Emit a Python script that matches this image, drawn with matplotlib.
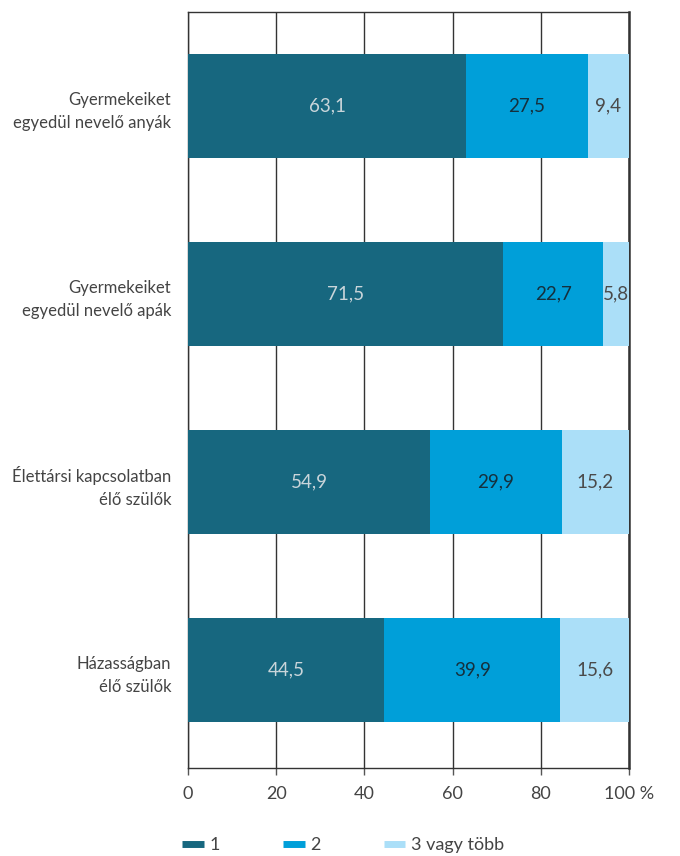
import matplotlib.pyplot as plt
import numpy as np

# categories, top to bottom
categories = ["Gyermekeiket\negyedül nevelő anyák",
              "Gyermekeiket\negyedül nevelő apák",
              "Élettársi kapcsolatban\nélő szülők",
              "Házasságban\nélő szülők"]

series_names = ["1", "2", "3 vagy több"]
vals_1 = [63.1, 71.5, 54.9, 44.5]
vals_2 = [27.5, 22.7, 29.9, 39.9]
vals_3 = [9.4, 5.8, 15.2, 15.6]

x_ticks = [0, 20, 40, 60, 80, 100]
x_tick_labels = ["0", "20", "40", "60", "80", "100 %"]

colors = ["#17677f", "#009fd9", "#abdff8"]
text_colors = ["#c9d5da", "#15303d", "#4a4a4a"]

plt.rcParams['font.family'] = ['Lato', 'DejaVu Sans']
fs = 13

fig = plt.figure(figsize=(6.8, 8.56), dpi=100)
ax = fig.add_axes([188 / 680, 1 - 768 / 856, 441 / 680, 756 / 856])

y = np.arange(len(categories))
left = np.zeros(len(categories))
for vals, col, tcol, name in zip([vals_1, vals_2, vals_3], colors, text_colors, series_names):
    vals = np.array(vals)
    ax.barh(y, vals, left=left, height=0.555, color=col, label=name, zorder=3)
    for yi, l, v in zip(y, left, vals):
        ax.text(l + v / 2, yi, f"{v:.1f}".replace(".", ","), ha='center', va='center',
                color=tcol, fontsize=13.5, zorder=4)
    left = left + vals

ax.set_xlim(0, 100)
ax.set_ylim(3.52, -0.5)
ax.set_yticks(y)
ax.set_yticklabels(categories, fontsize=12, color="#444444", linespacing=1.55)
ax.tick_params(axis='y', length=0, pad=12)
ax.set_xticks(x_ticks)
ax.set_xticklabels(x_tick_labels, fontsize=fs, color="#444444")
ax.tick_params(axis='x', length=5, width=1, color="#555555", pad=8)
ax.xaxis.grid(True, color="#333333", linewidth=1, zorder=0)
for s in ax.spines.values():
    s.set_color("#333333")
    s.set_linewidth(1)
ax.spines['right'].set_linewidth(1.8)

handles = [plt.Line2D([0], [0], color=c, linewidth=5, solid_capstyle='butt') for c in colors]
fig.legend(handles, series_names, loc='lower left', bbox_to_anchor=(166 / 680, -0.016),
           ncol=3, frameon=False, fontsize=fs, handlelength=1.2, handletextpad=0.3,
           columnspacing=3.5, labelcolor="#444444")

fig.savefig("out.png", dpi=100)
